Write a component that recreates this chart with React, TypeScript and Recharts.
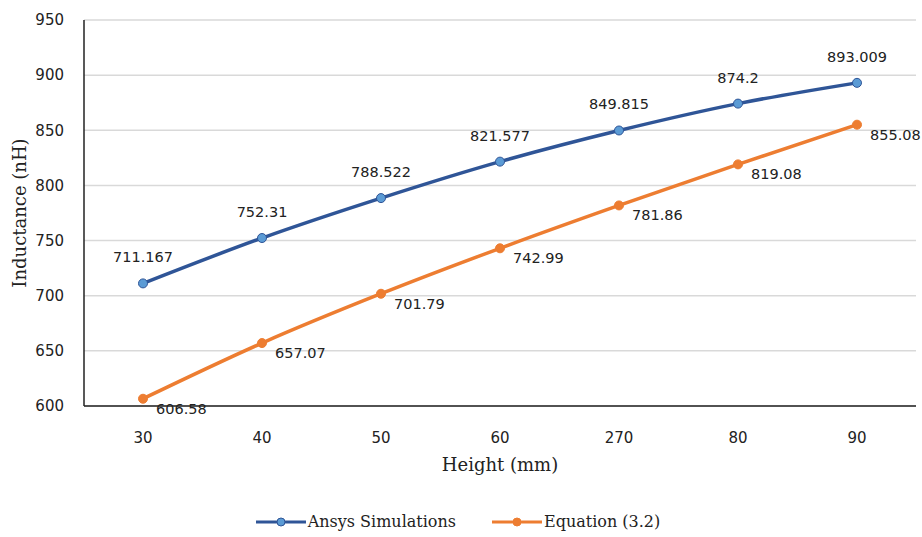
import React from "react";
import { LineChart, Line, XAxis, YAxis, CartesianGrid, Legend, LabelList } from "recharts";

const heights = ["30", "40", "50", "60", "270", "80", "90"];
const ansys = [711.167, 752.31, 788.522, 821.577, 849.815, 874.2, 893.009];
const equation = [606.58, 657.07, 701.79, 742.99, 781.86, 819.08, 855.08];
const yTicks = [600, 650, 700, 750, 800, 850, 900, 950];

const data = heights.map((h, i) => ({ height: h, ansys: ansys[i], equation: equation[i] }));

const BLUE_LINE = "#2F5597";
const BLUE_DOT = "#5B9BD5";
const ORANGE = "#ED7D31";
const tickFont = "'DejaVu Sans', sans-serif";
const serif = "'DejaVu Serif', serif";

const AboveLabel = (props: any) => {
  const { x, y, value } = props;
  return (
    <text x={x} y={y - 26} textAnchor="middle" dominantBaseline="central" fontFamily={tickFont} fontSize={14.5} fill="#222">
      {value}
    </text>
  );
};

const RightLabel = (props: any) => {
  const { x, y, value } = props;
  return (
    <text x={x + 13} y={y + 10} textAnchor="start" dominantBaseline="central" fontFamily={tickFont} fontSize={14.5} fill="#222">
      {value}
    </text>
  );
};

const LegendContent = () => {
  const items = [
    { name: "Ansys Simulations", line: BLUE_LINE, dot: BLUE_DOT },
    { name: "Equation (3.2)", line: ORANGE, dot: ORANGE },
  ];
  return (
    <div style={{ display: "flex", justifyContent: "center", gap: 36, fontFamily: serif, fontSize: 16, color: "#222" }}>
      {items.map((it) => (
        <div key={it.name} style={{ display: "flex", alignItems: "center" }}>
          <svg width={50} height={12} style={{ marginRight: 2 }}>
            <line x1={0} y1={6} x2={50} y2={6} stroke={it.line} strokeWidth={3} />
            <circle cx={25} cy={6} r={4} fill={it.dot} stroke={it.line} strokeWidth={1} />
          </svg>
          <span>{it.name}</span>
        </div>
      ))}
    </div>
  );
};

export default function App() {
  return (
    <div style={{ position: "absolute", left: 0, top: 0, background: "#fff" }}>
      <LineChart width={922} height={537} data={data} margin={{ top: 20, right: 6, left: 0, bottom: 0 }}>
        <CartesianGrid vertical={false} stroke="#D9D9D9" strokeWidth={1.5} />
        <XAxis
          dataKey="height"
          padding={{ left: 59, right: 59 }}
          axisLine={{ stroke: "#222", strokeWidth: 1.5 }}
          tickLine={false}
          tickMargin={20}
          height={112}
          tick={{ fontFamily: tickFont, fontSize: 15, fill: "#222" }}
          label={{ value: "Height (mm)", position: "insideTop", offset: 52, fontFamily: serif, fontSize: 18, fill: "#222" }}
        />
        <YAxis
          domain={[600, 950]}
          ticks={yTicks}
          width={84}
          axisLine={{ stroke: "#222", strokeWidth: 1.5 }}
          tickLine={false}
          tickMargin={14}
          tick={{ fontFamily: tickFont, fontSize: 15, fill: "#222" }}
          label={{ value: "Inductance (nH)", angle: -90, position: "insideLeft", offset: 20, fontFamily: serif, fontSize: 18, fill: "#222", style: { textAnchor: "middle" } }}
        />
        <Legend verticalAlign="bottom" content={<LegendContent />} wrapperStyle={{ bottom: 6 }} />
        <Line
          type="monotone"
          dataKey="ansys"
          name="Ansys Simulations"
          stroke={BLUE_LINE}
          strokeWidth={3.5}
          dot={{ r: 4.5, fill: BLUE_DOT, stroke: BLUE_LINE, strokeWidth: 1 }}
          isAnimationActive={false}
        >
          <LabelList dataKey="ansys" content={<AboveLabel />} />
        </Line>
        <Line
          type="monotone"
          dataKey="equation"
          name="Equation (3.2)"
          stroke={ORANGE}
          strokeWidth={3.5}
          dot={{ r: 4.5, fill: ORANGE, stroke: ORANGE, strokeWidth: 1 }}
          isAnimationActive={false}
        >
          <LabelList dataKey="equation" content={<RightLabel />} />
        </Line>
      </LineChart>
    </div>
  );
}
